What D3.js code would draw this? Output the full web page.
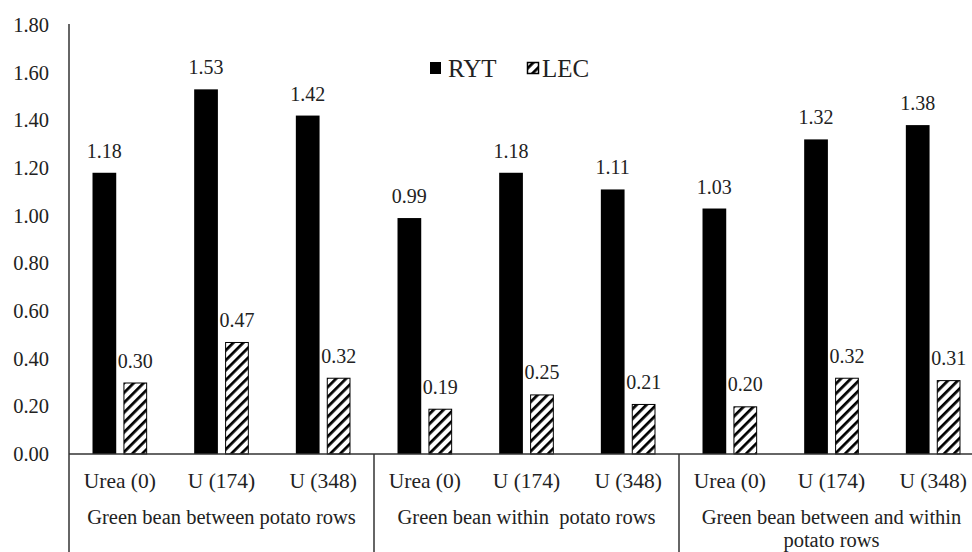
<!DOCTYPE html>
<html><head><meta charset="utf-8">
<script src="https://cdn.jsdelivr.net/npm/d3@7"></script>
<style>body{margin:0;background:#fff}svg{display:block}</style>
</head><body><svg id="c" width="972" height="552"></svg>
<script>
const categories = ["Urea (0)","U (174)","U (348)","Urea (0)","U (174)","U (348)","Urea (0)","U (174)","U (348)"];
const groups = [["Green bean between potato rows"],["Green bean within  potato rows"],["Green bean between and within","potato rows"]];
const series = ["RYT","LEC"];
const rytValues = [1.18,1.53,1.42,0.99,1.18,1.11,1.03,1.32,1.38];
const lecValues = [0.30,0.47,0.32,0.19,0.25,0.21,0.20,0.32,0.31];
const yTicks = [0,0.2,0.4,0.6,0.8,1.0,1.2,1.4,1.6,1.8];

(function(){
const FF = "Liberation Serif";
const svg = d3.select("#c");
const L = 69, R = 984, T = 25, B = 454;
const defs = svg.append("defs");
const pat = defs.append("pattern").attr("id","hatch").attr("patternUnits","userSpaceOnUse")
  .attr("width",7).attr("height",7).attr("patternTransform","rotate(45)");
pat.append("rect").attr("width",7).attr("height",7).attr("fill","#fff");
pat.append("line").attr("x1",0).attr("y1",0).attr("x2",0).attr("y2",7).attr("stroke","#000").attr("stroke-width",5.5);

const y = d3.scaleLinear().domain([0,1.8]).range([B,T]);
const idx = d3.range(categories.length);
const x = d3.scaleBand().domain(idx).range([L,R]).paddingInner(0).paddingOuter(0);
const xs = d3.scaleBand().domain(series).range([0,x.bandwidth()]).paddingInner(0.233).paddingOuter(0.76);

const yAxis = d3.axisLeft(y).tickValues(yTicks).tickFormat(d3.format(".2f")).tickSize(0).tickPadding(20);
const ya = svg.append("g").attr("transform",`translate(${L},0)`).call(yAxis);
ya.select(".domain").remove();
ya.selectAll("text").style("font-size","20.5px").style("font-family",FF).attr("fill","#222");

const data = idx.map(i => ({i, RYT: rytValues[i], LEC: lecValues[i]}));
const lab = svg.append("g").attr("fill","#222").attr("text-anchor","middle");
series.forEach(s => {
  lab.selectAll(null).data(data).enter().append("text")
    .attr("x", d => x(d.i) + xs(s) + xs.bandwidth()/2)
    .attr("y", d => y(d[s]) - 15)
    .style("font-family",FF).style("font-size","20px")
    .text(d => d[s].toFixed(2));
});

const bars = svg.append("g");
bars.selectAll(null).data(data).enter().append("rect")
  .attr("x", d => x(d.i) + xs("RYT")).attr("width", xs.bandwidth())
  .attr("y", d => y(d.RYT)).attr("height", d => B - y(d.RYT)).attr("fill","#000");
bars.selectAll(null).data(data).enter().append("rect")
  .attr("x", d => x(d.i) + xs("LEC")+0.5).attr("width", xs.bandwidth()-1)
  .attr("y", d => y(d.LEC)+0.5).attr("height", d => B - y(d.LEC)-0.5)
  .attr("fill","url(#hatch)").attr("stroke","#000").attr("stroke-width",1);

const ax = svg.append("g").attr("stroke","#333").attr("stroke-width",1.5);
ax.append("line").attr("x1",L).attr("x2",L).attr("y1",T-1).attr("y2",552);
ax.append("line").attr("x1",L).attr("x2",R).attr("y1",B).attr("y2",B);
[3,6].forEach(k => {
  const xx = x(k);
  ax.append("line").attr("x1",xx).attr("x2",xx).attr("y1",B).attr("y2",552);
});

const cl = svg.append("g").attr("fill","#222").attr("text-anchor","middle");
cl.selectAll(null).data(idx).enter().append("text")
  .attr("x", i => x(i) + x.bandwidth()/2).attr("y", 488)
  .style("font-family",FF).style("font-size","21.5px")
  .text(i => categories[i]);
groups.forEach((g, gi) => {
  const cx = (x(gi*3) + x(gi*3+2) + x.bandwidth())/2;
  g.forEach((line, li) => {
    cl.append("text").attr("x", cx).attr("y", 524 + li*23)
      .style("font-family",FF).style("font-size","20.5px").style("white-space","pre").text(line);
  });
});

const lg = svg.append("g").attr("fill","#222");
lg.append("rect").attr("x",430).attr("y",62).attr("width",11).attr("height",12).attr("fill","#000");
lg.append("text").attr("x",448).attr("y",77).style("font-family",FF).style("font-size","25px").text("RYT");
lg.append("rect").attr("x",527.5).attr("y",62.5).attr("width",11).attr("height",11).attr("fill","url(#hatch)").attr("stroke","#000").attr("stroke-width",1.5);
lg.append("text").attr("x",542).attr("y",77).style("font-family",FF).style("font-size","25px").text("LEC");
})();
</script></body></html>
